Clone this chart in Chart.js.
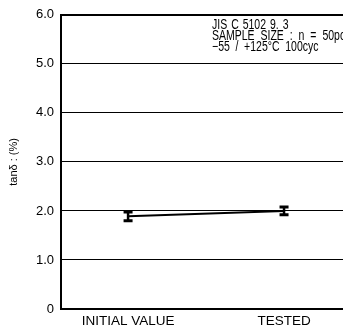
<!DOCTYPE html>
<html>
<head>
<meta charset="utf-8">
<script src="https://cdn.jsdelivr.net/npm/chart.js@4"></script>
<style>
  html, body { margin: 0; padding: 0; background: #fff; overflow: hidden; }
  canvas { display: block; }
</style>
</head>
<body>
<canvas id="chart" width="343" height="332"></canvas>
<script>
'use strict';

// values
const categories = ['INITIAL VALUE', 'TESTED'];
const tanDelta = [1.89, 2.00];
const errLow = [1.80, 1.92];
const errHigh = [1.98, 2.08];
const yTicks = [0, 1, 2, 3, 4, 5, 6];
const noteLines = ['JIS C 5102 9. 3', 'SAMPLE SIZE : n = 50pcs', '\u221255 / +125\u00B0C 100cyc'];

const FONT = '"Liberation Sans", Arial, sans-serif';

// error bars + note text
const extras = {
    id: 'extras',
    afterDatasetsDraw(chart) {
        const ctx = chart.ctx;
        const xs = chart.scales.x, ys = chart.scales.y;
        ctx.save();
        ctx.strokeStyle = '#000';
        for (let i = 0; i < tanDelta.length; i++) {
            const px = xs.getPixelForValue(i);
            const top = ys.getPixelForValue(errHigh[i]);
            const bot = ys.getPixelForValue(errLow[i]);
            ctx.lineWidth = 2.5;
            ctx.beginPath();
            ctx.moveTo(px, top);
            ctx.lineTo(px, bot);
            ctx.stroke();
            ctx.lineWidth = 3;
            ctx.beginPath();
            ctx.moveTo(px - 4.5, top);
            ctx.lineTo(px + 4.5, top);
            ctx.moveTo(px - 4.5, bot);
            ctx.lineTo(px + 4.5, bot);
            ctx.stroke();
        }
        // note, narrow look
        ctx.fillStyle = '#000';
        ctx.font = '14px ' + FONT;
        ctx.textBaseline = 'middle';
        const spacing = ['1.4px', '4px', '3.7px'];
        noteLines.forEach((t, k) => {
            ctx.save();
            ctx.translate(212, 25.5 + k * 11);
            ctx.scale(0.75, 1);
            ctx.wordSpacing = spacing[k];
            ctx.fillText(t, 0, 0);
            ctx.restore();
        });
        ctx.restore();
    }
};

new Chart(document.getElementById('chart').getContext('2d'), {
    type: 'line',
    data: {
        datasets: [{
            data: tanDelta.map((v, i) => ({ x: i, y: v })),
            borderColor: '#000',
            borderWidth: 2,
            pointRadius: 0,
            fill: false
        }]
    },
    options: {
        responsive: false,
        animation: false,
        layout: { padding: { top: 11, right: 0, left: 0, bottom: 0 } },
        plugins: { legend: { display: false }, tooltip: { enabled: false } },
        scales: {
            x: {
                type: 'linear',
                min: -0.43,
                max: 1.378,
                afterBuildTicks(axis) {
                    axis.ticks = categories.map((c, i) => ({ value: i }));
                },
                afterFit(axis) { axis.height = 23; },
                ticks: {
                    color: '#000',
                    font: { family: FONT, size: 13.5 },
                    padding: 4,
                    maxRotation: 0,
                    autoSkip: false,
                    callback: (v) => categories[v]
                },
                grid: { display: false, drawTicks: false, tickLength: 0 },
                border: { color: '#000', width: 2 }
            },
            y: {
                min: 0,
                max: 6,
                afterBuildTicks(axis) {
                    axis.ticks = yTicks.map(v => ({ value: v }));
                },
                afterFit(axis) { axis.width = 61; },
                ticks: {
                    color: '#000',
                    font: { family: FONT, size: 13 },
                    padding: 7,
                    callback: (v) => v === 0 ? '0' : v.toFixed(1)
                },
                grid: {
                    color: '#000',
                    lineWidth: (c) => c.tick && c.tick.value === 6 ? 2 : 1,
                    drawTicks: false
                },
                border: { color: '#000', width: 2 },
                title: {
                    display: true,
                    text: 'tan\u03B4 : (%)',
                    color: '#000',
                    font: { family: FONT, size: 11 },
                    padding: { top: 7, bottom: 0 }
                }
            }
        }
    },
    plugins: [extras]
});
</script>
</body>
</html>
